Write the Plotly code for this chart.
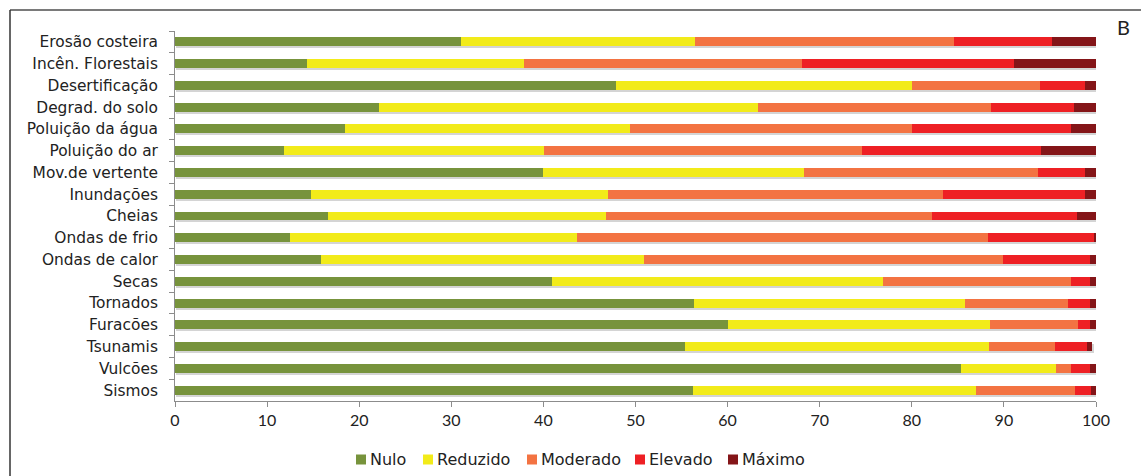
import numpy as np
import plotly.graph_objects as go

# Hazard categories, listed top to bottom
categories = [
    "Erosão costeira", "Incên. Florestais", "Desertificação", "Degrad. do solo",
    "Poluição da água", "Poluição do ar", "Mov.de vertente", "Inundações",
    "Cheias", "Ondas de frio", "Ondas de calor", "Secas", "Tornados",
    "Furacões", "Tsunamis", "Vulcões", "Sismos",
]

# Share of answers (%) per perceived risk level
nulo = [31.1, 14.3, 47.9, 22.1, 18.5, 11.8, 40.0, 14.8, 16.6, 12.5, 15.8, 40.9, 56.3, 60.0, 55.4, 85.3, 56.2]
reduzido = [25.4, 23.6, 32.1, 41.2, 30.9, 28.3, 28.3, 32.2, 30.2, 31.2, 35.1, 36.0, 29.5, 28.5, 33.0, 10.4, 30.8]
moderado = [28.1, 30.2, 13.9, 25.3, 30.6, 34.5, 25.4, 36.4, 35.4, 44.6, 39.0, 20.4, 11.2, 9.5, 7.1, 1.6, 10.7]
elevado = [10.6, 23.0, 4.9, 9.0, 17.3, 19.4, 5.1, 15.4, 15.7, 11.5, 9.4, 2.0, 2.4, 1.4, 3.5, 2.0, 1.8]
maximo = [4.8, 8.9, 1.2, 2.4, 2.7, 6.0, 1.2, 1.2, 2.1, 0.2, 0.7, 0.7, 0.6, 0.6, 0.6, 0.7, 0.5]

series_names = ["Nulo", "Reduzido", "Moderado", "Elevado", "Máximo"]
series_values = [nulo, reduzido, moderado, elevado, maximo]
series_colors = ["#77933C", "#F2EB1A", "#F37342", "#EE2024", "#841518"]

x_ticks = [0, 10, 20, 30, 40, 50, 60, 70, 80, 90, 100]

totals = np.sum(np.array(series_values), axis=0)

LABEL_FONT = "DejaVu Sans"
NUM_FONT = "Lato"
AXIS_GREY = "#8c8c8c"
n = len(categories)

# Plot-area geometry in pixels (used to place frame, letter and key)
W, H = 1141, 476
L, R, T, B = 175, 45, 31, 75
PW, PH = W - L - R, H - T - B


def px_to_paper_x(px):
    return (px - L) / PW


def px_to_paper_y(py):
    return (H - B - py) / PH


fig = go.Figure()

# Soft drop shadow under each bar, on a slightly shifted pair of axes
fig.add_trace(go.Bar(
    y=categories, x=totals, orientation="h",
    marker=dict(color="rgba(60,60,60,0.22)", line=dict(width=0)),
    xaxis="x", yaxis="y", showlegend=False, hoverinfo="skip",
))

for name, vals, col in zip(series_names, series_values, series_colors):
    fig.add_trace(go.Bar(
        y=categories, x=vals, name=name, orientation="h",
        marker=dict(color=col, line=dict(width=0)),
        xaxis="x2", yaxis="y2", showlegend=False,
    ))

fig.update_layout(
    width=W, height=H,
    margin=dict(l=L, r=R, t=T, b=B, autoexpand=False),
    paper_bgcolor="white", plot_bgcolor="white",
    barmode="stack", bargap=0.59,
    showlegend=False,
    xaxis=dict(range=[-0.16, 99.84], visible=False, fixedrange=True),
    yaxis=dict(type="category", categoryorder="array", categoryarray=categories,
               range=[n - 0.5 - 0.092, -0.5 - 0.092], visible=False),
    xaxis2=dict(
        overlaying="x", anchor="y2", side="bottom",
        range=[0, 100], tickvals=x_ticks, ticktext=[str(t) for t in x_ticks],
        showgrid=False, zeroline=False,
        showline=True, linecolor=AXIS_GREY, linewidth=1,
        ticks="outside", ticklen=5, tickcolor=AXIS_GREY,
        tickfont=dict(family=NUM_FONT, size=16, color="#222"),
    ),
    yaxis2=dict(
        overlaying="y", anchor="x2", side="left",
        type="category", categoryorder="array", categoryarray=categories,
        range=[n - 0.5, -0.5],
        showgrid=False, zeroline=False,
        showline=True, linecolor=AXIS_GREY, linewidth=1,
        ticks="outside", ticklen=5, tickcolor=AXIS_GREY, tickson="boundaries",
        ticklabelstandoff=13,
        tickfont=dict(family=LABEL_FONT, size=15.4, color="#222"),
    ),
)

# Compact key below the axis: colour swatch followed by its label
key_left_px = [356, 423, 527, 635, 728]
key_mid_y = 459.5
swatch = 10
for name, col, kx in zip(series_names, series_colors, key_left_px):
    fig.add_shape(type="rect", xref="paper", yref="paper",
                  x0=px_to_paper_x(kx), x1=px_to_paper_x(kx + swatch),
                  y0=px_to_paper_y(key_mid_y - swatch / 2), y1=px_to_paper_y(key_mid_y + swatch / 2),
                  fillcolor=col, line=dict(width=0))
    fig.add_annotation(text=name, xref="paper", yref="paper",
                       x=px_to_paper_x(kx + swatch + 2), y=px_to_paper_y(key_mid_y),
                       xanchor="left", yanchor="middle", showarrow=False,
                       font=dict(family=LABEL_FONT, size=16, color="#222"))

# Panel frame (left and top edges)
fig.add_shape(type="line", xref="paper", yref="paper",
              x0=px_to_paper_x(10), x1=px_to_paper_x(W + 20),
              y0=px_to_paper_y(10), y1=px_to_paper_y(10),
              line=dict(color="#7a7a7a", width=2))
fig.add_shape(type="line", xref="paper", yref="paper",
              x0=px_to_paper_x(10), x1=px_to_paper_x(10),
              y0=px_to_paper_y(10), y1=px_to_paper_y(H + 20),
              line=dict(color="#333333", width=1.5))

# Panel letter
fig.add_annotation(text="B", xref="paper", yref="paper",
                   x=px_to_paper_x(1123), y=px_to_paper_y(27),
                   xanchor="center", yanchor="middle",
                   showarrow=False, font=dict(family=NUM_FONT, size=20, color="#222"))

fig.write_html("out.html")
